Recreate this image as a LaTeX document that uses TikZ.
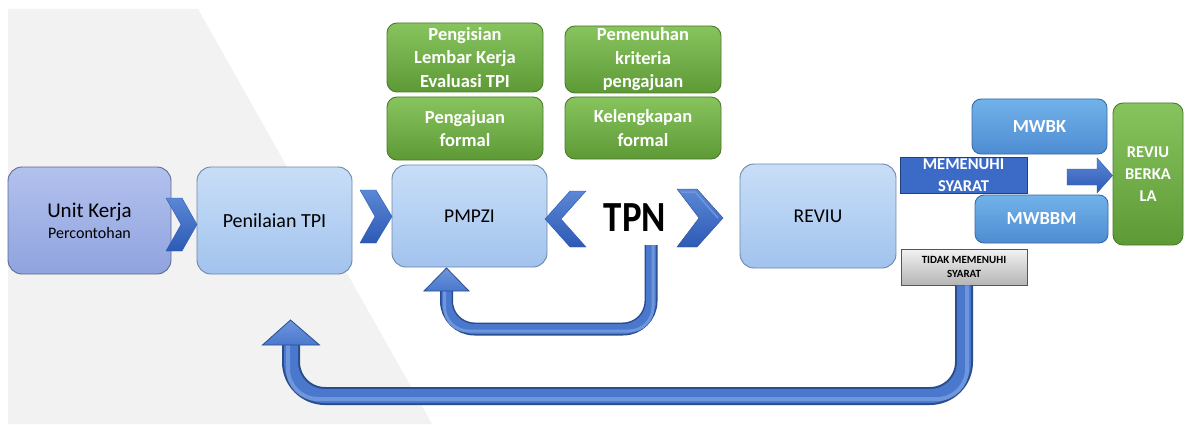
\documentclass[tikz,border=0pt]{standalone}
\usepackage{fontspec}
\setmainfont{Carlito}
\usetikzlibrary{calc}
\definecolor{bggray}{HTML}{F2F2F2}
\definecolor{uktop}{HTML}{B3C1EE}
\definecolor{ukbot}{HTML}{8FA3DE}
\definecolor{ukdraw}{HTML}{5E6C8E}
\definecolor{lbtop}{HTML}{C8DEF7}
\definecolor{lbbot}{HTML}{A2C3EE}
\definecolor{lbdraw}{HTML}{6C87AA}
\definecolor{gtop}{HTML}{88C45E}
\definecolor{gbot}{HTML}{5D9935}
\definecolor{gdraw}{HTML}{4B7A2C}
\definecolor{mtop}{HTML}{72B2EA}
\definecolor{mbot}{HTML}{4E8CD2}
\definecolor{mdraw}{HTML}{3A6AA2}
\definecolor{dkblue}{HTML}{3B6BC6}
\definecolor{dkdraw}{HTML}{22407E}
\definecolor{ttop}{HTML}{F2F2F2}
\definecolor{tbot}{HTML}{B5B5B5}
\definecolor{tdraw}{HTML}{555555}
\definecolor{chtop}{HTML}{5B87D6}
\definecolor{chbot}{HTML}{2D5AB5}
\definecolor{arrdark}{HTML}{2B4C8C}
\definecolor{arrbody}{HTML}{4A78CD}
\definecolor{arrlight}{HTML}{6E96DC}
\tikzset{
  base/.style={rectangle, rounded corners=#1, inner sep=0pt, align=center, line width=0.9pt},
  ukbox/.style={base=14pt, draw=ukdraw, top color=uktop, bottom color=ukbot, text=black},
  lbox/.style={base=14pt, draw=lbdraw, top color=lbtop, bottom color=lbbot, text=black,
     font=\fontsize{20}{24}\selectfont},
  gbox/.style={base=10pt, draw=gdraw, top color=gtop, bottom color=gbot, text=white,
     font=\bfseries\fontsize{18.5}{23.5}\selectfont},
  mbox/.style={base=9pt, draw=mdraw, top color=mtop, bottom color=mbot, text=white,
     font=\bfseries\fontsize{18.5}{22}\selectfont},
  dbox/.style={base=0pt, draw=dkdraw, fill=dkblue, text=white,
     font=\bfseries\fontsize{16.5}{21.5}\selectfont},
  tbox/.style={base=0pt, draw=tdraw, top color=ttop, bottom color=tbot, text=black,
     font=\bfseries\fontsize{11}{13.5}\selectfont},
  chev/.style={top color=chtop, bottom color=chbot, draw=chbot, line width=0.4pt},
  arrout/.style={draw=arrdark, line width=#1, rounded corners=34pt},
  arrin/.style={draw=arrbody, line width=#1, rounded corners=34pt},
  arrhl/.style={draw=arrlight, line width=#1, rounded corners=34pt},
  head/.style={top color=arrlight, bottom color=arrbody, draw=arrdark, line width=0.8pt, line join=miter},
}
\begin{document}
\begin{tikzpicture}[x=1pt,y=-1pt]
\useasboundingbox (0,0) rectangle (1185,425);
% background
\fill[white] (0,0) rectangle (1185,425);
\fill[bggray] (8,9) -- (198,9) -- (432,424) -- (8,424) -- cycle;

% arrow end points
\coordinate (bigbase) at (291,345);
\coordinate (bigtip) at (290.5,320);
\coordinate (smallstart) at (651,245);
\coordinate (smallbase) at (446.5,291);
\coordinate (smalltip) at (446.5,268);

% main boxes
\node[ukbox, minimum width=163pt, minimum height=107pt, font=\fontsize{21}{23}\selectfont] (uk) at (89.5,220.5)
  {Unit Kerja\\[-2pt]\fontsize{16}{20}\selectfont Percontohan};
\node[lbox, minimum width=155pt, minimum height=107pt] (pen) at (274.5,220.5) {Penilaian TPI};
\node[lbox, minimum width=155pt, minimum height=102pt] (pmpzi) at (469.5,216) {\fontsize{19.5}{24}\selectfont PMPZI};
\node[lbox, minimum width=156pt, minimum height=104pt] (reviu) at (818,216) {\fontsize{19.5}{24}\selectfont REVIU};

% green boxes
\node[gbox, minimum width=156pt, minimum height=69pt] (g1) at (465,57.5) {Pengisian\\Lembar Kerja\\Evaluasi TPI};
\node[gbox, minimum width=156pt, minimum height=63pt] (g2) at (465,128.5) {Pengajuan\\formal};
\node[gbox, minimum width=156pt, minimum height=67pt] (g3) at (643,59.5) {Pemenuhan\\kriteria\\pengajuan};
\node[gbox, minimum width=156pt, minimum height=62pt] (g4) at (643,128) {Kelengkapan\\formal};

% TPN
\node[font=\bfseries\fontsize{38}{40}\selectfont, inner sep=0pt] (tpn) at (635,218) {\scalebox{0.97}[1.13]{TPN}};

% right side
\node[mbox, minimum width=135pt, minimum height=55pt] (mwbk) at (1039.5,126.5) {MWBK};
\node[mbox, minimum width=133pt, minimum height=48pt] (mwbbm) at (1041.5,219) {MWBBM};
\node[dbox, minimum width=127pt, minimum height=36pt] (mem) at (963.5,175) {MEMENUHI\\SYARAT};
\node[tbox, minimum width=126pt, minimum height=36pt] (tidak) at (964,267) {TIDAK MEMENUHI\\SYARAT};
\node[gbox, base=10pt, minimum width=70pt, minimum height=142pt,
      font=\bfseries\fontsize{16.5}{22}\selectfont] (rb) at (1148,174) {REVIU\\BERKA\\LA};

% big return arrow: TIDAK -> Penilaian
\draw[arrout=18pt] (tidak.south) -- (964,396) -- (291,396) -- (bigbase);
\draw[arrin=14pt] (tidak.south) -- (964,396) -- (291,396) -- (bigbase);
\draw[arrhl=4pt, rounded corners=30pt] ($(tidak.south)+(3,0)$) -- (967,399) -- (288,399) -- ($(bigbase)+(-3,0)$);
\draw[head] ($(bigbase)+(-28.5,0)$) -- ($(bigbase)+(28.5,0)$) -- (bigtip) -- cycle;

% small return arrow: TPN -> PMPZI
\draw[arrout=13pt, rounded corners=28pt] (smallstart) -- (651,329) -- (446.5,329) -- (smallbase);
\draw[arrin=10pt, rounded corners=28pt] (smallstart) -- (651,329) -- (446.5,329) -- (smallbase);
\draw[arrhl=3pt, rounded corners=24pt] (653,245) -- (653,331) -- (444.5,331) -- (444.5,291);
\draw[head] ($(smallbase)+(-22.5,0)$) -- ($(smallbase)+(22.5,0)$) -- (smalltip) -- cycle;

% chevrons
\shade[chev] (166,198) -- (182,198) -- (197,224.5) -- (182,251) -- (166,251) -- (181,224.5) -- cycle;
\shade[chev] (360,190) -- (376,190) -- (392,216.5) -- (376,243) -- (360,243) -- (375,216.5) -- cycle;
\shade[chev] (586,191) -- (570,191) -- (545,219) -- (570,247) -- (586,247) -- (561,219) -- cycle;
\shade[chev, draw=arrdark] (677,189) -- (697,189) -- (723,218) -- (697,247) -- (677,247) -- (699,218) -- cycle;
\draw[arrlight, line width=1.5pt] (681,192) -- (695,192) -- (718,218);

% block arrow into REVIU BERKALA
\shade[chev] (1067,169) -- (1097,169) -- (1097,158) -- (rb.west |- 0,175.5) -- (1097,193) -- (1097,185) -- (1067,185) -- cycle;
\end{tikzpicture}
\end{document}
